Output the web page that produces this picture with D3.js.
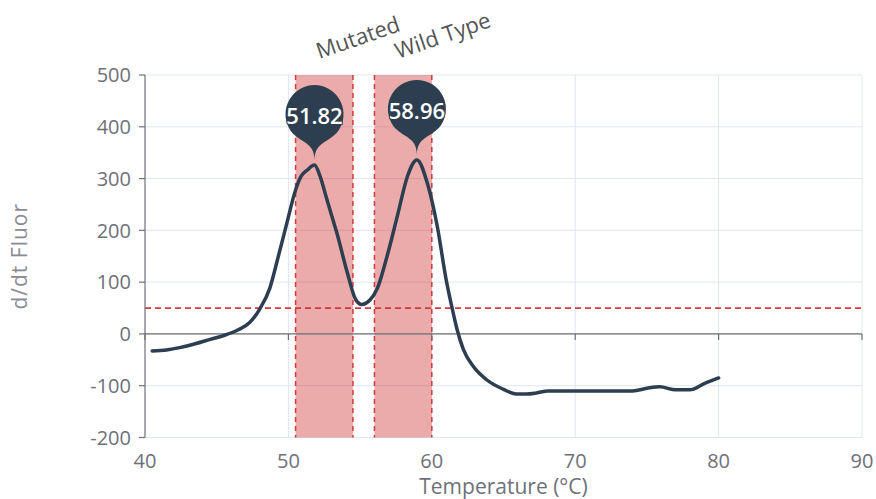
<!DOCTYPE html>
<html>
<head>
<meta charset="utf-8">
<script src="https://cdn.jsdelivr.net/npm/d3@7"></script>
<style>
  body { margin: 0; background: #ffffff; }
  svg { display: block; }
  text { font-family: "Open Sans", "Noto Sans", sans-serif; }
</style>
</head>
<body>
<svg id="chart" width="876" height="499"></svg>
<script>
// Melt curve: first derivative of fluorescence against temperature
const temps = [40.5, 41.5, 42.5, 43.5, 44.5, 45.5, 46.5, 47.3, 48.0, 48.7, 49.3, 49.9, 50.5, 50.9, 51.3, 51.82,
  52.2, 52.6, 53.0, 53.4, 54.1, 54.7, 55.1, 55.7, 56.2, 56.9, 57.6, 58.3, 58.96, 59.7, 60.4, 61.0, 61.4, 61.75,
  62.2, 62.9, 63.8, 65.0, 65.9, 66.6, 67.3, 68.1, 69.8, 72.0, 74.0, 75.0, 75.9, 77.0, 78.0, 79.0, 80.0];
const dFluor = [-33, -31, -26, -19, -11, -3, 8, 22, 48, 88, 150, 215, 278, 305, 316, 326,
  305, 268, 230, 193, 119, 66, 57, 66, 88, 152, 228, 304, 336, 290, 205, 105, 52, 10,
  -30, -63, -88, -107, -116, -116, -114, -110, -110, -110, -110, -105, -102, -108, -108, -96, -85];

// Melting regions
const regionNames = ["Mutated", "Wild Type"];
const regionStart = [50.5, 56.0];
const regionEnd = [54.5, 60.0];

// Melting temperatures (Tm) and the peak heights at those temperatures
const peakTemps = [51.82, 58.96];
const peakValues = [326, 336];

const threshold = 50;

const xTicks = [40, 50, 60, 70, 80, 90];
const yTicks = [-200, -100, 0, 100, 200, 300, 400, 500];

const xTitle = "Temperature (°C)";
const yTitle = "d/dt Fluor";

// ---- layout ----
const plot = { left: 145, right: 862, top: 75, bottom: 437.5 };
const lineColor = "#2c3e50";
const axisColor = "#6e7079";
const gridColor = "#e0e6f1";
const red = "#d23a3a";

const svg = d3.select("#chart");
const x = d3.scaleLinear().domain([40, 90]).range([plot.left, plot.right]);
const y = d3.scaleLinear().domain([-200, 500]).range([plot.bottom, plot.top]);

// grid
const grid = svg.append("g");
grid.selectAll("line.h").data(yTicks).join("line")
  .attr("x1", plot.left).attr("x2", plot.right)
  .attr("y1", d => y(d)).attr("y2", d => y(d))
  .attr("stroke", gridColor).attr("stroke-width", 1);
grid.selectAll("line.v").data(xTicks.filter(d => d > 40)).join("line")
  .attr("x1", d => x(d)).attr("x2", d => x(d))
  .attr("y1", plot.top).attr("y2", plot.bottom)
  .attr("stroke", gridColor).attr("stroke-width", 1);

// shaded regions
const regions = regionNames.map((name, i) => ({ name, start: regionStart[i], end: regionEnd[i] }));
const reg = svg.append("g");
reg.selectAll("rect").data(regions).join("rect")
  .attr("x", d => x(d.start)).attr("width", d => x(d.end) - x(d.start))
  .attr("y", plot.top).attr("height", plot.bottom - plot.top)
  .attr("fill", "rgba(205,45,45,0.40)");
const edges = regions.flatMap(d => [d.start, d.end]);
reg.selectAll("line").data(edges).join("line")
  .attr("x1", d => x(d)).attr("x2", d => x(d))
  .attr("y1", plot.top).attr("y2", plot.bottom)
  .attr("stroke", red).attr("stroke-width", 1.5).attr("stroke-dasharray", "5,4");

// region labels, tilted
reg.selectAll("text").data(regions).join("text")
  .attr("transform", d => `translate(${(x(d.start) + x(d.end)) / 2 - 5},59) rotate(-19)`)
  .attr("font-size", 22).attr("fill", "#555")
  .text(d => d.name);

// threshold line
svg.append("line")
  .attr("x1", plot.left).attr("x2", plot.right)
  .attr("y1", y(threshold)).attr("y2", y(threshold))
  .attr("stroke", red).attr("stroke-width", 1.8).attr("stroke-dasharray", "6,4");

// axes
const axes = svg.append("g").attr("stroke", axisColor).attr("stroke-width", 1.2);
axes.append("line").attr("x1", plot.left).attr("x2", plot.left).attr("y1", plot.top).attr("y2", plot.bottom);
axes.selectAll("line.yt").data(yTicks).join("line")
  .attr("x1", plot.left - 6).attr("x2", plot.left)
  .attr("y1", d => y(d)).attr("y2", d => y(d));
axes.append("line").attr("x1", plot.left).attr("x2", plot.right).attr("y1", y(0)).attr("y2", y(0));
axes.selectAll("line.xt").data(xTicks).join("line")
  .attr("x1", d => x(d)).attr("x2", d => x(d))
  .attr("y1", y(0)).attr("y2", y(0) + 6);

const labels = svg.append("g").attr("fill", axisColor).attr("font-size", 20);
labels.selectAll("text.y").data(yTicks).join("text")
  .attr("x", plot.left - 14).attr("y", d => y(d)).attr("dy", "0.36em")
  .attr("text-anchor", "end").text(d => d);
labels.selectAll("text.x").data(xTicks).join("text")
  .attr("x", d => x(d)).attr("y", 468)
  .attr("text-anchor", "middle").text(d => d);

svg.append("text").attr("x", (plot.left + plot.right) / 2).attr("y", 494)
  .attr("text-anchor", "middle").attr("font-size", 21).attr("fill", axisColor).text(xTitle);
svg.append("text").attr("transform", `translate(20,${(plot.top + plot.bottom) / 2}) rotate(-90)`)
  .attr("text-anchor", "middle").attr("dy", "0.35em").attr("font-size", 21)
  .attr("letter-spacing", 1).attr("fill", "#8a8c94").text(yTitle);

// curve
const pts = temps.map((t, i) => [t, dFluor[i]]);
svg.append("path").datum(pts)
  .attr("d", d3.line().x(d => x(d[0])).y(d => y(d[1])).curve(d3.curveMonotoneX))
  .attr("fill", "none").attr("stroke", lineColor).attr("stroke-width", 3.5)
  .attr("stroke-linejoin", "round").attr("stroke-linecap", "round");

// pin markers at Tm peaks
function pinPath(px, py, r, h) {
  const dy = r * r / (h - r);
  const cy = py - h + r + dy;
  const angle = Math.asin(dy / r);
  const dx = Math.cos(angle) * r;
  const tanX = Math.sin(angle), tanY = Math.cos(angle);
  const cp = r * 0.6, cp2 = r * 0.7;
  const p = d3.path();
  p.moveTo(px - dx, cy + dy);
  p.arc(px, cy, r, Math.PI - angle, Math.PI * 2 + angle);
  p.bezierCurveTo(px + dx - tanX * cp, cy + dy + tanY * cp, px, py - cp2, px, py);
  p.bezierCurveTo(px, py - cp2, px - dx + tanX * cp, cy + dy + tanY * cp, px - dx, cy + dy);
  p.closePath();
  return { d: p.toString(), cy };
}
const peaks = peakTemps.map((t, i) => ({ t, v: peakValues[i] }));
const pins = svg.append("g").selectAll("g").data(peaks).join("g");
pins.each(function (d) {
  const g = d3.select(this);
  const pin = pinPath(x(d.t), y(d.v) - 5, 29, 89);
  g.append("path").attr("d", pin.d).attr("fill", lineColor);
  g.append("text").attr("x", x(d.t)).attr("y", pin.cy + 2).attr("dy", "0.36em")
    .attr("text-anchor", "middle").attr("font-size", 22).attr("font-weight", 600).attr("fill", "#fff")
    .attr("stroke", lineColor).attr("stroke-width", 2).attr("paint-order", "stroke")
    .text(d.t.toFixed(2));
});
</script>
</body>
</html>
